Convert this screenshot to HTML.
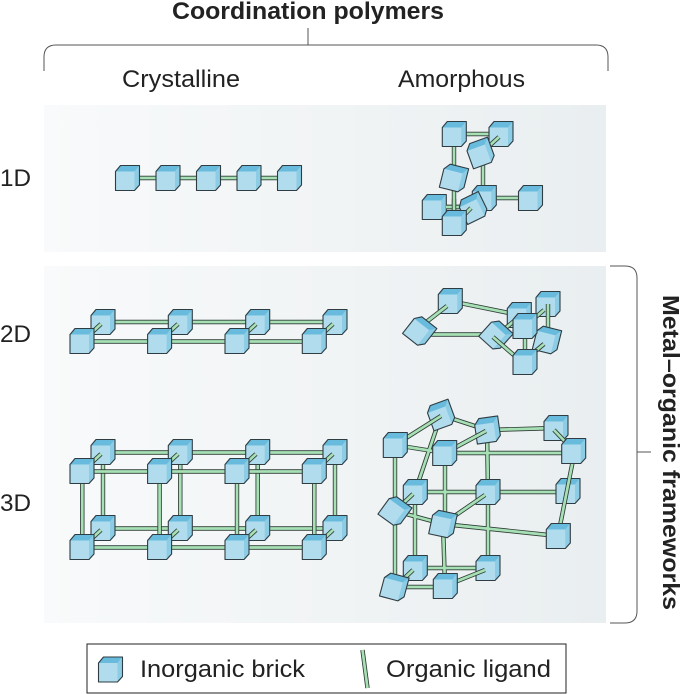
<!DOCTYPE html>
<html><head><meta charset="utf-8"><style>
html,body{margin:0;padding:0;background:#fff;width:685px;height:694px;overflow:hidden}
svg{display:block}
text{font-family:"Liberation Sans",sans-serif;fill:#222}
</style></head><body>
<svg width="685" height="694" viewBox="0 0 685 694" xmlns="http://www.w3.org/2000/svg">
<defs>
<linearGradient id="bg" x1="0" x2="1" y1="0" y2="0"><stop offset="0" stop-color="#f8fafb"/><stop offset="0.5" stop-color="#f1f4f5"/><stop offset="1" stop-color="#e9eef0"/></linearGradient>
<g id="c">
<path d="M-12,-6.5 L-7,-12.5 H12 V7 L7,12.5 H-12 Z" fill="#b0dcee"/>
<path d="M-12,-6.5 L-7,-12.5 H12 L7,-6.5 Z" fill="#68bbdc"/>
<path d="M7,-6.5 L12,-12.5 V7 L7,12.5 Z" fill="#8ccce5"/>
<path d="M-12,-6.5 L-7,-12.5 H12 V7 L7,12.5 H-12 Z" fill="none" stroke="#2f3c42" stroke-width="1.1" stroke-linejoin="round"/>
</g>
<style>
.k{stroke:#2f3d36;stroke-width:4.4;fill:none}
.g{stroke:#a6e0b4;stroke-width:2.7;fill:none}
</style>
</defs>

<rect x="44" y="105" width="562" height="147" fill="url(#bg)"/>
<rect x="44" y="266" width="562" height="357" fill="url(#bg)"/>

<path d="M44,71 V57 Q44,45 56,45 H596 Q608,45 608,57 V71 M308,28 V45" fill="none" stroke="#555" stroke-width="1"/>
<path d="M610,266 H625 Q637,266 637,278 V611 Q637,623 625,623 H610 M637,452 H651" fill="none" stroke="#555" stroke-width="1"/>

<text x="172" y="19" font-size="24" font-weight="bold" textLength="272" lengthAdjust="spacingAndGlyphs">Coordination polymers</text>
<text x="122" y="87" font-size="24" textLength="118" lengthAdjust="spacingAndGlyphs">Crystalline</text>
<text x="398" y="87" font-size="24" textLength="127" lengthAdjust="spacingAndGlyphs">Amorphous</text>
<text x="0" y="186" font-size="24" textLength="31" lengthAdjust="spacingAndGlyphs">1D</text>
<text x="0" y="342" font-size="24" textLength="31" lengthAdjust="spacingAndGlyphs">2D</text>
<text x="0" y="511" font-size="24" textLength="31" lengthAdjust="spacingAndGlyphs">3D</text>
<text transform="translate(663,295) rotate(90)" font-size="23" font-weight="bold" textLength="315" lengthAdjust="spacingAndGlyphs">Metal–organic frameworks</text>

<!-- 1D crystalline -->
<path class="k" d="M127,178 H290"/><path class="g" d="M127,178 H290"/>
<use href="#c" x="127.5" y="178"/><use href="#c" x="168" y="178"/><use href="#c" x="208.5" y="178"/><use href="#c" x="249" y="178"/><use href="#c" x="289.5" y="178"/>

<!-- 1D amorphous -->
<path class="k" d="M454,134 H501 M454,134 V223 M483,153 V198 M484,198 H530 M434,207 H473"/>
<path class="g" d="M454,134 H501 M454,134 V223 M483,153 V198 M484,198 H530 M434,207 H473"/>
<use href="#c" x="454.3" y="134"/><use href="#c" x="501" y="134"/>
<path class="k" d="M499,137 L488,147"/><path class="g" d="M499,137 L488,147"/>
<use href="#c" transform="translate(480.5,153) rotate(-20)"/>
<use href="#c" transform="translate(454,178) rotate(14)"/>
<use href="#c" x="484.3" y="198"/><use href="#c" x="530.5" y="198"/>
<use href="#c" x="434.3" y="207"/>
<path class="k" d="M446,207 H462"/><path class="g" d="M446,207 H462"/>
<use href="#c" transform="translate(473,208) rotate(-26)"/>
<path class="k" d="M471,208 L463,216"/><path class="g" d="M471,208 L463,216"/>
<path class="k" d="M454,199 V212"/><path class="g" d="M454,199 V212"/>
<use href="#c" x="454.3" y="223"/>

<!-- 2D crystalline -->
<path class="k" d="M103,322 H335"/><path class="g" d="M103,322 H335"/>
<use href="#c" x="103" y="322"/><use href="#c" x="180.3" y="322"/><use href="#c" x="257.7" y="322"/><use href="#c" x="335" y="322"/>
<path class="k" d="M101,324 L88,336 M178,324 L165,336 M256,324 L243,336 M333,324 L320,336"/>
<path class="g" d="M101,324 L88,336 M178,324 L165,336 M256,324 L243,336 M333,324 L320,336"/>
<path class="k" d="M82,341.5 H314"/><path class="g" d="M82,341.5 H314"/>
<use href="#c" x="82" y="341"/><use href="#c" x="159.6" y="341"/><use href="#c" x="237" y="341"/><use href="#c" x="314.3" y="341"/>

<!-- 3D crystalline -->
<path class="k" d="M103,452.5 H335 M103,528.5 H335 M103,452 V528 M180.3,452 V528 M257.7,452 V528 M335,452 V528"/>
<path class="g" d="M103,452.5 H335 M103,528.5 H335 M103,452 V528 M180.3,452 V528 M257.7,452 V528 M335,452 V528"/>
<use href="#c" x="103" y="452"/><use href="#c" x="180.3" y="452"/><use href="#c" x="257.7" y="452"/><use href="#c" x="335" y="452"/>
<use href="#c" x="103" y="528"/><use href="#c" x="180.3" y="528"/><use href="#c" x="257.7" y="528"/><use href="#c" x="335" y="528"/>
<path class="k" d="M101,454 L88,466 M178,454 L165,466 M256,454 L243,466 M333,454 L320,466 M101,530 L88,542 M178,530 L165,542 M256,530 L243,542 M333,530 L320,542"/>
<path class="g" d="M101,454 L88,466 M178,454 L165,466 M256,454 L243,466 M333,454 L320,466 M101,530 L88,542 M178,530 L165,542 M256,530 L243,542 M333,530 L320,542"/>
<path class="k" d="M82,471.5 H314 M82,547.5 H314 M82.3,471 V547 M159.6,471 V547 M237,471 V547 M314.3,471 V547"/>
<path class="g" d="M82,471.5 H314 M82,547.5 H314 M82.3,471 V547 M159.6,471 V547 M237,471 V547 M314.3,471 V547"/>
<use href="#c" x="82" y="471"/><use href="#c" x="159.6" y="471"/><use href="#c" x="237" y="471"/><use href="#c" x="314.3" y="471"/>
<use href="#c" x="82" y="547"/><use href="#c" x="159.6" y="547"/><use href="#c" x="237" y="547"/><use href="#c" x="314.3" y="547"/>

<!-- 2D amorphous -->
<path class="k" d="M450,301 L519,315 M420,334.5 H496"/>
<path class="g" d="M450,301 L519,315 M420,334.5 H496"/>
<use href="#c" x="450.3" y="301"/>
<path class="k" d="M447,306 L425,323"/><path class="g" d="M447,306 L425,323"/>
<use href="#c" transform="translate(419.7,331) rotate(38)"/>
<use href="#c" x="519.3" y="315"/>
<path class="k" d="M519,317 L502,331"/><path class="g" d="M519,317 L502,331"/>
<use href="#c" transform="translate(496,335) rotate(42)"/>
<path class="k" d="M493,337 L516,357"/><path class="g" d="M493,337 L516,357"/>
<use href="#c" x="548" y="304"/>
<path class="k" d="M544,310 L530,322 M548,304 V340"/><path class="g" d="M544,310 L530,322 M548,304 V340"/>
<use href="#c" transform="translate(547,340) rotate(14)"/>
<path class="k" d="M544,344 L532,354"/><path class="g" d="M544,344 L532,354"/>
<path class="k" d="M525,330 V362"/><path class="g" d="M525,330 V362"/>
<use href="#c" x="525" y="326"/>
<use href="#c" x="525" y="362"/>

<!-- 3D amorphous -->
<path class="k" d="M441,415 L487,430 M395,445 L445,453 M441,415 L415,492 M487,430 L556,428 M487,430 L488,492 M445,453 H573 M445,453 V524 M415,492 H568 M395,445 V587 M395,511 L443,524 M415,492 V568 M488,492 V568 M443,524 L558,536 M443,524 L445,586 M415,568 H488 M394,587 H445"/>
<path class="g" d="M441,415 L487,430 M395,445 L445,453 M441,415 L415,492 M487,430 L556,428 M487,430 L488,492 M445,453 H573 M445,453 V524 M415,492 H568 M395,445 V587 M395,511 L443,524 M415,492 V568 M488,492 V568 M443,524 L558,536 M443,524 L445,586 M415,568 H488 M394,587 H445"/>
<use href="#c" x="568" y="491"/>
<use href="#c" transform="translate(441,415) rotate(-20)"/>
<path class="k" d="M441,416 L395,445"/><path class="g" d="M441,416 L395,445"/>
<use href="#c" x="395.3" y="445"/>
<use href="#c" transform="translate(487.5,430) rotate(-8)"/>
<path class="k" d="M486,431 L445,453"/><path class="g" d="M486,431 L445,453"/>
<use href="#c" x="556" y="428"/>
<path class="k" d="M554,430 L574,451"/><path class="g" d="M554,430 L574,451"/>
<use href="#c" x="444.7" y="453"/>
<path class="k" d="M573,460 L558,536"/><path class="g" d="M573,460 L558,536"/>
<use href="#c" x="573.7" y="451"/>
<use href="#c" x="415.3" y="492"/>
<path class="k" d="M413,494 L395,511"/><path class="g" d="M413,494 L395,511"/>
<use href="#c" transform="translate(395,511) rotate(36)"/>
<use href="#c" x="488" y="492"/>
<path class="k" d="M485,495 L443,524"/><path class="g" d="M485,495 L443,524"/>
<use href="#c" transform="translate(443,524) rotate(12)"/>
<use href="#c" x="558.3" y="536"/>
<use href="#c" x="415.3" y="568"/>
<path class="k" d="M413,570 L395,587"/><path class="g" d="M413,570 L395,587"/>
<use href="#c" transform="translate(394.3,587) rotate(15)"/>
<use href="#c" x="488" y="568"/>
<path class="k" d="M485,570 L445,586"/><path class="g" d="M485,570 L445,586"/>
<use href="#c" x="445.3" y="586"/>

<!-- legend -->
<rect x="87" y="644" width="479" height="49" fill="#fff" stroke="#222" stroke-width="1"/>
<use href="#c" x="110.5" y="669.5"/>
<path class="k" d="M362.5,650 L367.5,688"/><path class="g" d="M362.5,650 L367.5,688"/>
<text x="140" y="677" font-size="24" textLength="165" lengthAdjust="spacingAndGlyphs">Inorganic brick</text>
<text x="386" y="677" font-size="24" textLength="165" lengthAdjust="spacingAndGlyphs">Organic ligand</text>
</svg>
</body></html>
